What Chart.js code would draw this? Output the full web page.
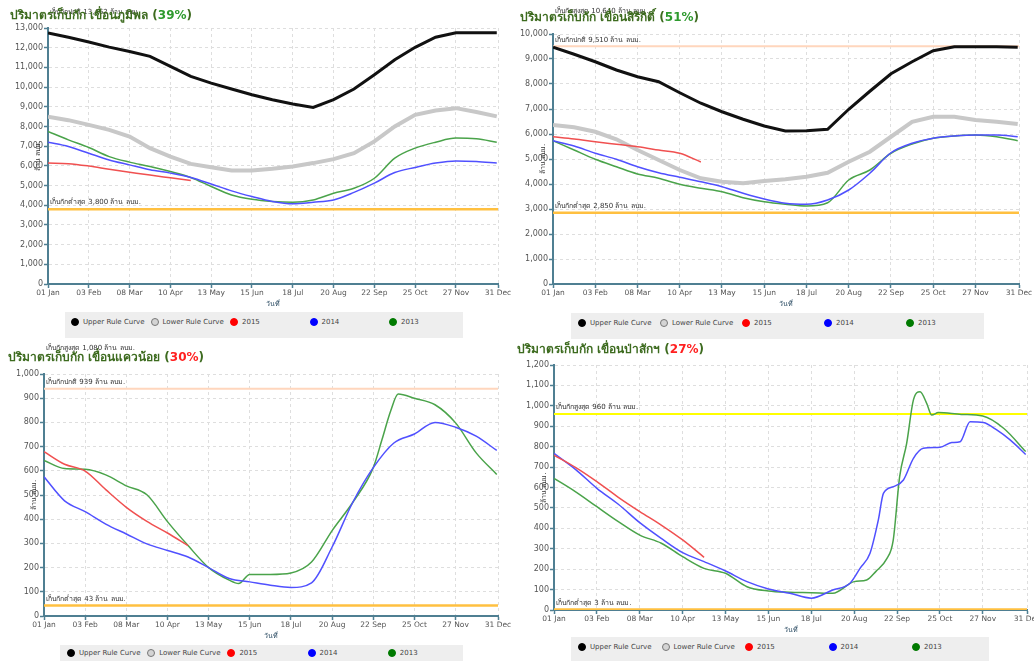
<!DOCTYPE html>
<html>
<head>
<meta charset="utf-8">
<script src="https://cdn.jsdelivr.net/npm/chart.js@4.4.1/dist/chart.umd.min.js"></script>
<style>
  body { margin: 0; width: 1034px; height: 661px; overflow: hidden; background: #fff;
         font-family: Tahoma, "DejaVu Sans", sans-serif; }
  .box { position: absolute; }
  .title { position: absolute; font-size: 12px; line-height: 14px; font-weight: bold; color: #3d6b1f; white-space: nowrap; z-index: 3; }
  .legend { position: absolute; background: #eeeeee; z-index: 1; }
  .dot { position: absolute; width: 8px; height: 8px; border-radius: 50%; box-sizing: border-box; }
  .ltext { position: absolute; font-size: 7px; line-height: 8px; color: #444; white-space: nowrap; }
</style>
</head>
<body>
<script>
// แกน x เป็นวันของปี (0 = 1 ม.ค.)
const tickDays = [0, 33, 66, 99, 132, 165, 198, 231, 264, 297, 330, 364];
const tickLabels = ['01 Jan', '03 Feb', '08 Mar', '10 Apr', '13 May', '15 Jun', '18 Jul', '20 Aug', '22 Sep', '25 Oct', '27 Nov', '31 Dec'];
const gridDays = [0, 16.5, 33, 49.5, 66, 82.5, 99, 115.5, 132, 148.5, 165, 181.5, 198, 214.5, 231, 247.5, 264, 280.5, 297, 313.5, 330, 346.5, 363];

const legendNames = ['Upper Rule Curve', 'Lower Rule Curve', '2015', '2014', '2013'];
const damTitles = ['ปริมาตรเก็บกัก เขื่อนภูมิพล', 'ปริมาตรเก็บกัก เขื่อนสิริกิติ์', 'ปริมาตรเก็บกัก เขื่อนแควน้อย', 'ปริมาตรเก็บกัก เขื่อนป่าสักฯ'];
const damPercents = [39, 51, 30, 27];
const yMax = [13000, 10000, 1000, 1200];
const yStep = [1000, 1000, 100, 100];

// เขื่อนภูมิพล
const bhumibolUpper = [12750, 12530, 12290, 12030, 11810, 11560, 11050, 10540, 10200, 9900, 9610, 9360, 9140, 8970, 9360, 9900, 10630, 11390, 12020, 12530, 12760, 12760, 12760];
const bhumibolLower = [8490, 8320, 8080, 7830, 7490, 6900, 6470, 6100, 5930, 5760, 5760, 5850, 5970, 6140, 6340, 6640, 7240, 8000, 8590, 8810, 8930, 8730, 8510];
const bhumibol2015 = [6140, 6110, 5990, 5830, 5680, 5530, 5390, 5250];
const bhumibol2014 = [7200, 6980, 6640, 6300, 6050, 5800, 5630, 5410, 5080, 4730, 4440, 4190, 4070, 4150, 4270, 4650, 5120, 5660, 5920, 6140, 6250, 6220, 6140];
const bhumibol2013 = [7750, 7320, 6930, 6470, 6190, 5970, 5710, 5410, 4950, 4520, 4300, 4190, 4150, 4270, 4610, 4860, 5370, 6390, 6900, 7200, 7410, 7370, 7200];
const bhumibolLimits = [13462, 3800];
const bhumibolLimitKinds = ['normal', 'min'];
const bhumibolLimitLabels = ['เก็บกักปกติ 13,462 ล้าน ลบม.', 'เก็บกักต่ำสุด 3,800 ล้าน ลบม.'];

// เขื่อนสิริกิติ์
const sirikitUpper = [9470, 9190, 8890, 8560, 8290, 8090, 7650, 7230, 6890, 6590, 6320, 6120, 6130, 6190, 6990, 7710, 8410, 8890, 9330, 9490, 9490, 9490, 9470];
const sirikitLower = [6360, 6270, 6090, 5790, 5360, 4960, 4560, 4230, 4090, 4030, 4120, 4190, 4290, 4450, 4890, 5290, 5890, 6490, 6690, 6690, 6560, 6490, 6400];
const sirikit2015 = [5890, 5800, 5690, 5590, 5490, 5360, 5230, 4880];
const sirikit2014 = [5730, 5520, 5230, 4990, 4690, 4450, 4270, 4090, 3890, 3630, 3400, 3230, 3190, 3360, 3760, 4430, 5250, 5630, 5830, 5920, 5960, 5960, 5890];
const sirikit2013 = [5730, 5360, 4990, 4690, 4400, 4230, 3990, 3830, 3690, 3450, 3290, 3190, 3120, 3250, 4160, 4560, 5230, 5600, 5830, 5920, 5960, 5890, 5730];
const sirikitLimits = [10640, 9510, 2850];
const sirikitLimitKinds = ['max', 'normal', 'min'];
const sirikitLimitLabels = ['เก็บกักสูงสุด 10,640 ล้าน ลบม.', 'เก็บกักปกติ 9,510 ล้าน ลบม.', 'เก็บกักต่ำสุด 2,850 ล้าน ลบม.'];

// เขื่อนแควน้อย
const khwaeNoi2015 = [679, 627, 599, 522, 449, 391, 343, 291];
const khwaeNoi2014 = [575, 476, 431, 380, 339, 298, 271, 244, 200, 155, 141, 127, 118, 137, 285, 469, 613, 715, 752, 800, 780, 743, 684];
const khwaeNoi2013Days = [0, 16.5, 33, 49.5, 66, 82.5, 99, 115.5, 132, 148.5, 156, 165, 181.5, 198, 214.5, 231, 247.5, 264, 271, 278, 284, 297, 313.5, 330, 346.5, 363];
const khwaeNoi2013 = [643, 609, 606, 583, 538, 501, 390, 291, 200, 148, 134, 172, 172, 178, 223, 353, 469, 613, 729, 848, 917, 900, 873, 798, 674, 585];
const khwaeNoiLimits = [1080, 939, 43];
const khwaeNoiLimitKinds = ['max', 'normal', 'min'];
const khwaeNoiLimitLabels = ['เก็บกักสูงสุด 1,080 ล้าน ลบม.', 'เก็บกักปกติ 939 ล้าน ลบม.', 'เก็บกักต่ำสุด 43 ล้าน ลบม.'];

// เขื่อนป่าสักฯ
const pasak2015 = [759, 699, 629, 552, 482, 416, 343, 258];
const pasak2014Days = [0, 16.5, 33, 49.5, 66, 82.5, 99, 115.5, 132, 148.5, 165, 181.5, 198, 214.5, 227.8, 235.5, 243.2, 249.6, 253.5, 261.2, 268.9, 276.6, 284.2, 297.1, 306.1, 312.5, 320.2, 330.4, 340.7, 351, 363];
const pasak2014 = [767, 689, 596, 518, 428, 351, 281, 237, 191, 139, 103, 82, 58, 98, 131, 204, 278, 441, 571, 604, 637, 743, 792, 797, 820, 824, 922, 918, 882, 833, 762];
const pasak2013Days = [0, 16.4, 33, 49.5, 66, 82.6, 99, 115.4, 132, 148.5, 165, 181, 198, 214.5, 231, 240.6, 247.6, 256, 261, 266, 271.4, 276.6, 281.7, 286.8, 290.7, 295.8, 313.5, 330, 346, 363];
const pasak2013 = [645, 580, 506, 433, 367, 327, 261, 204, 180, 114, 93, 87, 85, 82, 139, 147, 188, 250, 340, 653, 816, 1029, 1069, 1012, 955, 967, 958, 950, 890, 776];
const pasakLimits = [960, 3];
const pasakLimitKinds = ['maxYellow', 'min'];
const pasakLimitLabels = ['เก็บกักสูงสุด 960 ล้าน ลบม.', 'เก็บกักต่ำสุด 3 ล้าน ลบม.'];

const FONT = 'Tahoma, "DejaVu Sans", sans-serif';
const seriesStyle = {
  y2015: { color: '#f05050', width: 1.5 },
  y2014: { color: '#5050ff', width: 1.5 },
  y2013: { color: '#4aa34a', width: 1.5 },
  upper: { color: '#111111', width: 3 },
  lower: { color: '#c8c8c8', width: 4 }
};
const limitStyle = {
  normal: { color: '#ffd6bd', width: 2 },
  max: { color: '#ffd6bd', width: 2 },
  maxYellow: { color: '#ffff00', width: 2 },
  min: { color: '#ffc040', width: 2.5 }
};
const legendDots = [
  { bg: '#000', border: '#000' },
  { bg: '#d4d4d4', border: '#777' },
  { bg: '#ff0000', border: '#ff0000' },
  { bg: '#0000ff', border: '#0000ff' },
  { bg: '#007a00', border: '#007a00' }
];

const panels = [
  { left: 0, top: 0, w: 514, h: 312, area: { l: 48, t: 28, r: 498, b: 284 },
    titleX: 10, titleY: 15, pctColor: '#2e9a2e',
    legend: { x: 65, y: 312, w: 398, h: 26, dot0: 75, step: 79.5, dotY: 10 },
    series: [['y2015', gridDays, bhumibol2015], ['y2014', gridDays, bhumibol2014], ['y2013', gridDays, bhumibol2013],
             ['upper', gridDays, bhumibolUpper], ['lower', gridDays, bhumibolLower]],
    limits: bhumibolLimits, kinds: bhumibolLimitKinds, labels: bhumibolLimitLabels },
  { left: 514, top: 0, w: 520, h: 312, area: { l: 39, t: 34, r: 505, b: 284 },
    titleX: 520, titleY: 17, pctColor: '#2e9a2e',
    legend: { x: 571, y: 313, w: 413, h: 26, dot0: 582, step: 82, dotY: 10 },
    series: [['y2015', gridDays, sirikit2015], ['y2014', gridDays, sirikit2014], ['y2013', gridDays, sirikit2013],
             ['upper', gridDays, sirikitUpper], ['lower', gridDays, sirikitLower]],
    limits: sirikitLimits, kinds: sirikitLimitKinds, labels: sirikitLimitLabels },
  { left: 0, top: 337, w: 514, h: 308, area: { l: 44, t: 37, r: 498, b: 279 },
    titleX: 8, titleY: 357, pctColor: '#ff2020',
    legend: { x: 60, y: 645, w: 403, h: 20, dot0: 71, step: 80.2, dotY: 8 },
    series: [['y2015', gridDays, khwaeNoi2015], ['y2014', gridDays, khwaeNoi2014], ['y2013', khwaeNoi2013Days, khwaeNoi2013]],
    limits: khwaeNoiLimits, kinds: khwaeNoiLimitKinds, labels: khwaeNoiLimitLabels },
  { left: 514, top: 337, w: 520, h: 298, area: { l: 40, t: 28, r: 513, b: 273 },
    titleX: 517, titleY: 349, pctColor: '#ff2020',
    legend: { x: 571, y: 637, w: 418, h: 24, dot0: 582, step: 83.5, dotY: 10 },
    series: [['y2015', gridDays, pasak2015], ['y2014', pasak2014Days, pasak2014], ['y2013', pasak2013Days, pasak2013]],
    limits: pasakLimits, kinds: pasakLimitKinds, labels: pasakLimitLabels }
];

// ป้ายเส้นระดับเก็บกัก และชื่อแกน
const labelPlugin = {
  id: 'damLabels',
  afterDraw(chart) {
    const { ctx, chartArea, scales } = chart;
    const cfg = chart.options.plugins.damLabels;
    ctx.save();
    ctx.font = '7px ' + FONT;
    ctx.fillStyle = '#333';
    ctx.textAlign = 'left';
    ctx.textBaseline = 'bottom';
    cfg.values.forEach((v, i) => {
      ctx.fillText(cfg.labels[i], chartArea.left + 2, scales.y.getPixelForValue(v) - 3);
    });
    ctx.textAlign = 'center';
    ctx.textBaseline = 'middle';
    ctx.fillStyle = '#2f4f66';
    ctx.fillText('วันที่', (chartArea.left + chartArea.right) / 2, chartArea.bottom + 20);
    ctx.translate(chartArea.left - 10, (chartArea.top + chartArea.bottom) / 2);
    ctx.rotate(-Math.PI / 2);
    ctx.fillStyle = '#333';
    ctx.fillText('ล้าน ลบม.', 0, 0);
    ctx.restore();
  }
};

panels.forEach((p, idx) => {
  const box = document.createElement('div');
  box.className = 'box';
  box.style.cssText = `left:${p.left}px;top:${p.top}px;width:${p.w}px;height:${p.h}px;`;
  const canvas = document.createElement('canvas');
  box.appendChild(canvas);
  document.body.appendChild(box);

  const title = document.createElement('div');
  title.className = 'title';
  title.style.left = p.titleX + 'px';
  title.style.top = (p.titleY - 7) + 'px';
  title.innerHTML = `${damTitles[idx]} (<span style="color:${p.pctColor}">${damPercents[idx]}%</span>)`;
  document.body.appendChild(title);

  const lg = document.createElement('div');
  lg.className = 'legend';
  lg.style.cssText = `left:${p.legend.x}px;top:${p.legend.y}px;width:${p.legend.w}px;height:${p.legend.h}px;`;
  legendNames.forEach((name, k) => {
    const dx = p.legend.dot0 - p.legend.x + k * p.legend.step;
    const dot = document.createElement('div');
    dot.className = 'dot';
    dot.style.cssText = `left:${dx - 4}px;top:${p.legend.dotY - 4}px;background:${legendDots[k].bg};border:1px solid ${legendDots[k].border};`;
    const t = document.createElement('div');
    t.className = 'ltext';
    t.style.cssText = `left:${dx + 8}px;top:${p.legend.dotY - 4}px;`;
    t.textContent = name;
    lg.appendChild(dot);
    lg.appendChild(t);
  });
  document.body.appendChild(lg);

  const datasets = [];
  p.series.forEach(([kind, days, values]) => {
    datasets.push({
      data: values.map((v, i) => ({ x: days[i], y: v })),
      borderColor: seriesStyle[kind].color,
      borderWidth: seriesStyle[kind].width,
      pointRadius: 0,
      cubicInterpolationMode: kind.startsWith('y') ? 'monotone' : 'default',
      tension: 0
    });
  });
  p.limits.forEach((v, i) => {
    const st = limitStyle[p.kinds[i]];
    datasets.push({
      data: [{ x: 0, y: v }, { x: 364, y: v }],
      borderColor: st.color,
      borderWidth: st.width,
      pointRadius: 0
    });
  });

  const axisColor = '#4f7f92';
  new Chart(canvas, {
    type: 'line',
    data: { datasets },
    plugins: [labelPlugin],
    options: {
      responsive: true,
      maintainAspectRatio: false,
      animation: false,
      layout: { padding: { left: 0, top: p.area.t, right: p.w - p.area.r, bottom: 0 } },
      plugins: {
        legend: { display: false },
        tooltip: { enabled: false },
        damLabels: { values: p.limits, labels: p.labels }
      },
      scales: {
        x: {
          type: 'linear', min: 0, max: 364,
          afterBuildTicks: s => { s.ticks = tickDays.map(v => ({ value: v })); },
          afterFit: s => { s.height = p.h - p.area.b; s.paddingLeft = 0; s.paddingRight = 0; },
          ticks: { autoSkip: false, maxRotation: 0, padding: 1, color: '#555', font: { size: 7.5, family: FONT },
                   callback: v => tickLabels[tickDays.indexOf(v)] },
          grid: { color: '#dedede', tickColor: axisColor, tickLength: 4, tickWidth: 1.5 },
          border: { color: axisColor, width: 2, dash: [3, 3] }
        },
        y: {
          min: 0, max: yMax[idx],
          afterFit: s => { s.width = p.area.l; s.paddingTop = 0; s.paddingBottom = 0; },
          ticks: { stepSize: yStep[idx], padding: 1, color: '#555', font: { size: 8, family: FONT },
                   callback: v => v.toLocaleString('en-US') },
          grid: { color: '#dedede', tickColor: axisColor, tickLength: 4, tickWidth: 1.5 },
          border: { color: axisColor, width: 2, dash: [3, 3] }
        }
      }
    }
  });
});
</script>
</body>
</html>
